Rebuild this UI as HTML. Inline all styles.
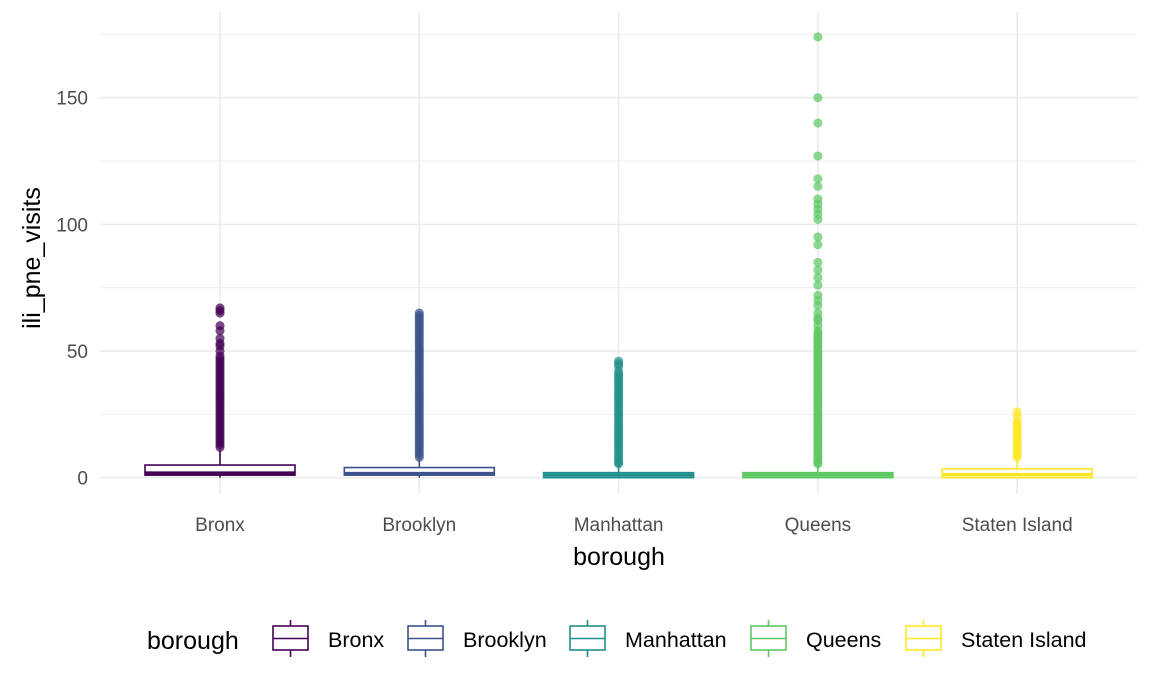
<!DOCTYPE html>
<html><head><meta charset="utf-8"><style>
body{margin:0;background:#fff;}
svg{display:block;font-family:"Liberation Sans",sans-serif;}
</style></head><body>
<svg id="c" width="1152" height="691" viewBox="0 0 1152 691"></svg>
<script>
const categories=["Bronx","Brooklyn","Manhattan","Queens","Staten Island"];
const colors=["#440154","#3B528B","#21908C","#5DC863","#FDE725"];
const q1=[1,1,0,0,0];
const medians=[1.8,1.6,1,1,1.2];
const q3=[5,4,2,2,3.5];
const whiskerLow=[0,0,0,0,0];
const whiskerHigh=[11,7.5,5,5,7];
const outBronx=[12,13,14,15,16,17,18,19,20,21,22,23,24,25,26,27,28,29,30,31,32,33,34,35,36,37,38,39,40,41,42,43,44,45,46,47,48,50,52,53,55,58,60,65,66,67];
const outBrooklyn=[8,9,10,11,12,13,14,15,16,17,18,19,20,21,22,23,24,25,26,27,28,29,30,31,32,33,34,35,36,37,38,39,40,41,42,43,44,45,46,47,48,49,50,51,52,53,54,55,56,57,58,59,60,61,62,63,64,65];
const outManhattan=[5.5,6,7,8,9,10,11,12,13,14,15,16,17,18,19,20,21,22,23,24,25,26,27,28,29,30,31,32,33,34,35,36,37,38,39,40,41,42,44,45,46];
const outQueens=[5.5,6,7,8,9,10,11,12,13,14,15,16,17,18,19,20,21,22,23,24,25,26,27,28,29,30,31,32,33,34,35,36,37,38,39,40,41,42,43,44,45,46,47,48,49,50,51,52,53,54,55,56,57,58,60,62,63,65,68,70,72,76,79,82,85,92,95,102,104,106,108,110,115,118,127,140,150,174];
const outStaten=[8,9,10,11,12,13,14,15,16,17,18,19,20,21,22,24,26];
const outliers=[outBronx,outBrooklyn,outManhattan,outQueens,outStaten];
const yTicks=[0,50,100,150];
const yMinor=[25,75,125,175];

const svg=document.getElementById('c');
const NS='http://www.w3.org/2000/svg';
function mk(t,a,p){const e=document.createElementNS(NS,t);for(const k in a)e.setAttribute(k,a[k]);(p||svg).appendChild(e);return e;}
const L=100,R=1137;
const y=v=>477.7-v*2.5333;
const x=i=>220+i*199.3;
const bw=150;

const grid=mk('g',{});


yMinor.forEach(v=>mk('line',{x1:L,x2:R,y1:y(v),y2:y(v),stroke:'#ebebeb','stroke-width':0.8},grid));
yTicks.forEach(v=>mk('line',{x1:L,x2:R,y1:y(v),y2:y(v),stroke:'#ebebeb','stroke-width':1.6},grid));
categories.forEach((c,i)=>mk('line',{x1:x(i),x2:x(i),y1:12,y2:494,stroke:'#ebebeb','stroke-width':1.6},grid));

yTicks.forEach(v=>{const t=mk('text',{x:88,y:y(v)+7,'text-anchor':'end','font-size':19,fill:'#4d4d4d'});t.textContent=v;
});
categories.forEach((c,i)=>{const t=mk('text',{x:x(i),y:531,'text-anchor':'middle','font-size':19,fill:'#4d4d4d'});t.textContent=c;
});

categories.forEach((c,i)=>{
  const g=mk('g',{});
  
  
  const col=colors[i],cx=x(i);
  mk('line',{x1:cx,x2:cx,y1:y(q3[i]),y2:y(whiskerHigh[i]),stroke:col,'stroke-width':1.6},g);
  mk('line',{x1:cx,x2:cx,y1:y(q1[i]),y2:y(whiskerLow[i]),stroke:col,'stroke-width':1.6},g);
  mk('rect',{x:cx-bw/2,y:y(q3[i]),width:bw,height:y(q1[i])-y(q3[i]),fill:'#fff',stroke:col,'stroke-width':1.6},g);
  mk('line',{x1:cx-bw/2,x2:cx+bw/2,y1:y(medians[i]),y2:y(medians[i]),stroke:col,'stroke-width':3.5},g);
  outliers[i].forEach(v=>{const p=mk('circle',{cx:cx,cy:y(v),r:4.3,fill:col,'fill-opacity':0.7,stroke:col,'stroke-opacity':0.5,'stroke-width':0.6},g);
    });
});

let t=mk('text',{x:619,y:565,'text-anchor':'middle','font-size':25,fill:'#000'});t.textContent='borough';

t=mk('text',{x:0,y:0,'text-anchor':'middle','font-size':25,fill:'#000',transform:'translate(40,258) rotate(-90)'});t.textContent='ili_pne_visits';


const lg=mk('g',{});


t=mk('text',{x:147,y:649,'font-size':25,fill:'#000'},lg);t.textContent='borough';

const keyX=[273,408,570,751,906];
categories.forEach((c,i)=>{
  const e=mk('g',{},lg);
  
  
  const kx=keyX[i],col=colors[i];
  mk('line',{x1:kx+17.5,x2:kx+17.5,y1:620,y2:657,stroke:col,'stroke-width':1.6},e);
  mk('rect',{x:kx,y:626,width:35,height:24,fill:'#fff',stroke:col,'stroke-width':1.6},e);
  mk('line',{x1:kx,x2:kx+35,y1:638.5,y2:638.5,stroke:col,'stroke-width':1.6},e);
  const tt=mk('text',{x:kx+55,y:647,'font-size':21.5,fill:'#000'},e);tt.textContent=c;
});
</script>
</body></html>
